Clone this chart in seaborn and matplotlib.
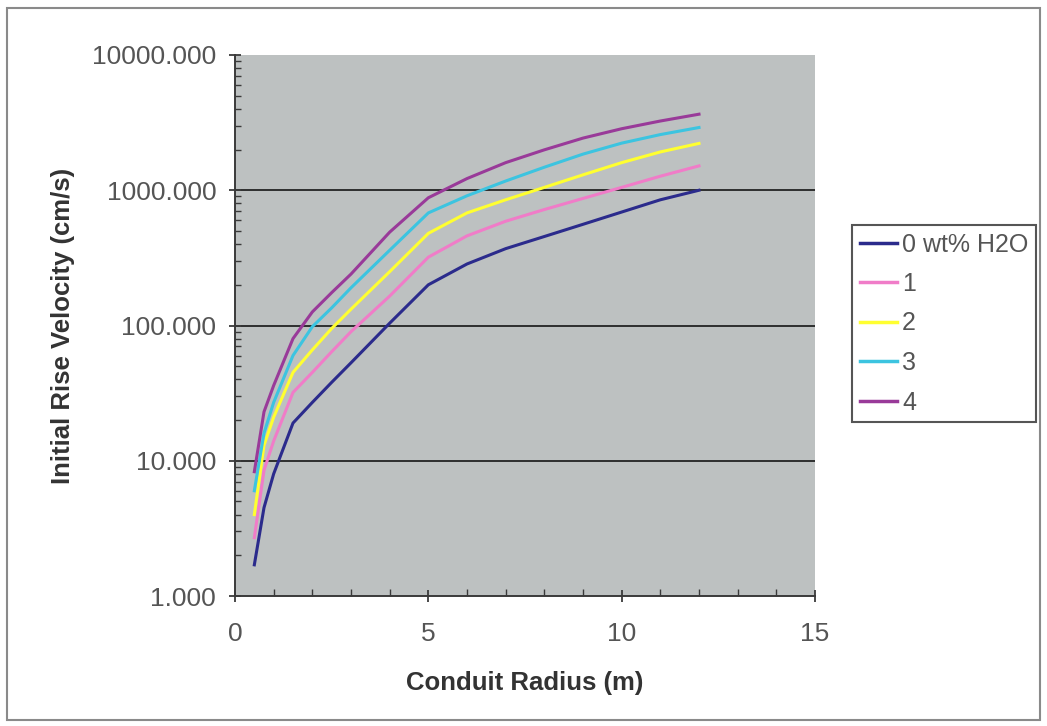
import numpy as np
import pandas as pd
import matplotlib
matplotlib.use("Agg")
import matplotlib.pyplot as plt
import seaborn as sns
from matplotlib.ticker import FixedLocator, LogLocator, FormatStrFormatter, MultipleLocator, NullFormatter
from matplotlib.patches import Rectangle

# ---- data ----
radius = [0.5, 0.75, 1, 1.5, 2, 2.5, 3, 4, 5, 6, 7, 8, 9, 10, 11, 12]
v_h2o0 = [1.7, 4.5, 8.0, 19, 27, 38, 53, 104, 200, 285, 370, 455, 560, 690, 850, 1000]
v_h2o1 = [2.7, 8.5, 14, 32, 45, 64, 90, 165, 320, 460, 590, 720, 870, 1050, 1270, 1514]
v_h2o2 = [4.0, 13, 21, 45, 66, 95, 132, 250, 480, 680, 850, 1050, 1300, 1600, 1920, 2220]
v_h2o3 = [6.0, 16, 27, 60, 98, 135, 190, 360, 680, 910, 1170, 1480, 1850, 2230, 2580, 2910]
v_h2o4 = [8.3, 23, 36, 80, 126, 175, 240, 490, 880, 1220, 1600, 1990, 2430, 2850, 3250, 3650]
series_labels = ["0 wt% H2O", "1", "2", "3", "4"]
series_colors = ["#2b2b8c", "#f07cc8", "#ffff30", "#3cc4e0", "#993a99"]
x_ticks = [0, 5, 10, 15]
y_ticks = [1, 10, 100, 1000, 10000]

rows = []
for lab, vals in zip(series_labels, [v_h2o0, v_h2o1, v_h2o2, v_h2o3, v_h2o4]):
    for r, v in zip(radius, vals):
        rows.append({"radius": r, "velocity": v, "series": lab})
df = pd.DataFrame(rows)

plt.rcParams["font.family"] = ["Liberation Sans", "DejaVu Sans"]

fig = plt.figure(figsize=(10.47, 7.26), dpi=100)
fig.patch.set_facecolor("white")
ax = fig.add_axes([235 / 1047, 1 - 596 / 726, (815 - 235) / 1047, (596 - 55) / 726])
ax.set_facecolor("#bdc1c1")

sns.lineplot(data=df, x="radius", y="velocity", hue="series",
             hue_order=series_labels, palette=series_colors,
             linewidth=2.2, ax=ax, legend=False, sort=True)

ax.set_yscale("log")
ax.set_xlim(0, 15)
ax.set_ylim(1, 10000)

# gridlines
for yv in [10, 100, 1000]:
    ax.axhline(yv, color="#2e2e2e", lw=1.4, zorder=1)

ax.yaxis.set_major_locator(FixedLocator(y_ticks))
ax.yaxis.set_major_formatter(FormatStrFormatter("%.3f"))
ax.yaxis.set_minor_locator(LogLocator(base=10, subs=np.arange(2, 10)))
ax.yaxis.set_minor_formatter(NullFormatter())
ax.xaxis.set_major_locator(FixedLocator(x_ticks))
ax.xaxis.set_minor_locator(MultipleLocator(1))

ax.tick_params(axis="both", which="major", direction="inout", length=9, width=1.3,
               colors="#3a3a3a", labelcolor="#555555", labelsize=19)
ax.tick_params(axis="y", which="minor", direction="in", length=4, width=1.0, colors="#3a3a3a")
ax.tick_params(axis="x", which="minor", direction="in", length=5, width=1.0, colors="#3a3a3a")
ax.tick_params(axis="x", which="major", pad=14)
ax.tick_params(axis="y", which="major", pad=9)

for s in ["top", "right"]:
    ax.spines[s].set_visible(False)
for s in ["left", "bottom"]:
    ax.spines[s].set_color("#3a3a3a")
    ax.spines[s].set_linewidth(1.4)

ax.set_xlabel("Conduit Radius (m)", fontsize=18.5, fontweight="bold", color="#333333", labelpad=18)
ax.set_ylabel("Initial Rise Velocity (cm/s)", fontsize=18.5, fontweight="bold", color="#333333", labelpad=12)

# legend
handles = [plt.Line2D([0], [0], color=c, lw=2.5) for c in series_colors]
leg = fig.legend(handles, series_labels, loc="upper left",
                 bbox_to_anchor=(852 / 1047, 1 - 225 / 726), borderaxespad=0,
                 fontsize=18, frameon=True, fancybox=False, framealpha=1,
                 handlelength=1.5, handletextpad=0.2, labelspacing=0.62,
                 borderpad=0.3)
leg.get_frame().set_edgecolor("#555555")
leg.get_frame().set_linewidth(1.5)
for t in leg.get_texts():
    t.set_color("#555555")

# outer chart border
fig.patches.append(Rectangle((7 / 1047, 1 - 720 / 726), (1040 - 7) / 1047, (720 - 8) / 726,
                             transform=fig.transFigure, fill=False,
                             edgecolor="#8a8a8a", linewidth=1.5))

fig.savefig("out.png", dpi=100)
